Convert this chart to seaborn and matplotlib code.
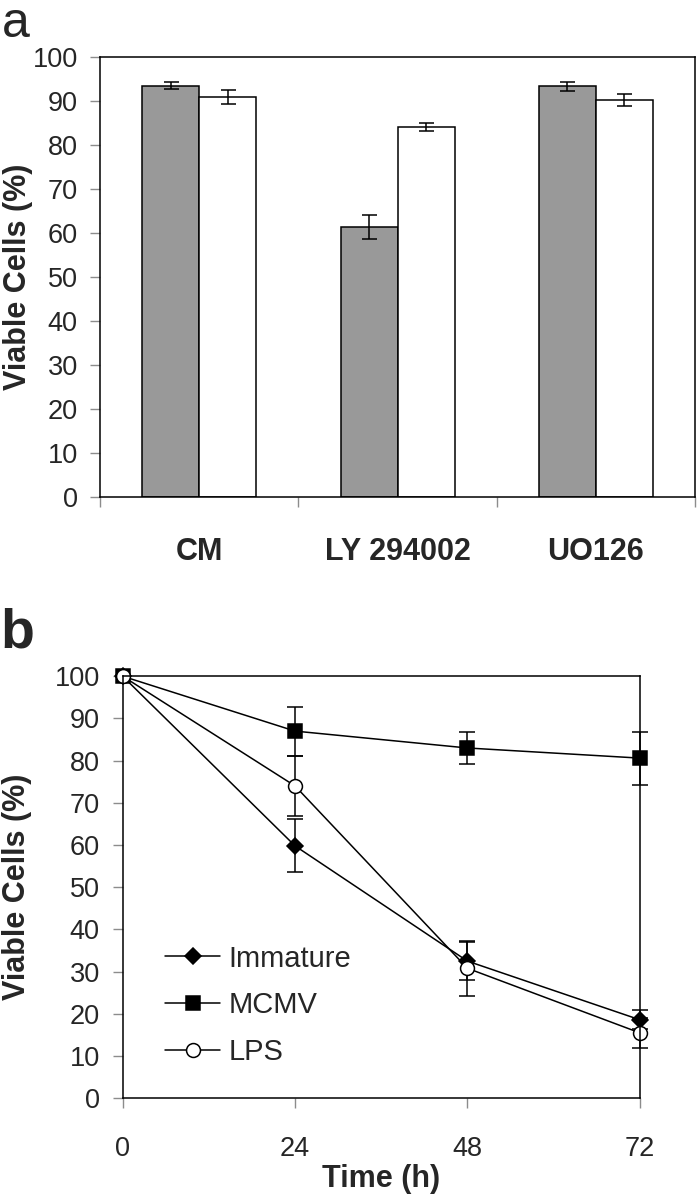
import numpy as np
import pandas as pd
import matplotlib
matplotlib.use("Agg")
import matplotlib.pyplot as plt
import seaborn as sns

# panel a: viability per inhibitor, two bar series (grey / white)
treatments = ["CM", "LY 294002", "UO126"]
grey_vals = [93.5, 61.3, 93.3]
grey_err = [0.8, 2.7, 1.1]
white_vals = [90.9, 84.0, 90.2]
white_err = [1.5, 0.9, 1.4]

# panel b: viability over time
hours = [0, 24, 48, 72]
immature = [100, 59.8, 32.5, 18.6]
immature_err = [0, 6.3, 4.5, 2.3]
mcmv = [100, 87.0, 83.0, 80.6]
mcmv_err = [0, 5.8, 3.9, 6.3]
lps = [100, 74.0, 30.8, 15.5]
lps_err = [0, 7.0, 6.5, 3.5]

sns.set_theme(style="white")
plt.rcParams["font.family"] = ["Liberation Sans", "DejaVu Sans"]

TICK_GREY = "#8c8c8c"
LW = 1.1
TICK_FS = 19.5
LABEL_FS = 22

fig = plt.figure(figsize=(6.97, 11.99), dpi=100)
ax_a = fig.add_axes([0.1435, 0.5855, 0.8537, 0.367])
ax_b = fig.add_axes([0.176, 0.084, 0.742, 0.352])

# ---------------- panel a ----------------
df_a = pd.DataFrame({
    "treatment": treatments * 2,
    "value": grey_vals + white_vals,
    "group": ["grey"] * 3 + ["white"] * 3,
})
sns.barplot(data=df_a, x="treatment", y="value", hue="group",
            palette={"grey": "#999999", "white": "white"},
            width=0.575, edgecolor="black", linewidth=LW,
            legend=False, errorbar=None, ax=ax_a)

errs = grey_err + white_err
for patch, err in zip(ax_a.patches, errs):
    cx = patch.get_x() + patch.get_width() / 2
    ax_a.errorbar(cx, patch.get_height(), yerr=err, fmt="none",
                  ecolor="black", elinewidth=LW, capsize=5.4, capthick=LW)

ax_a.set_ylim(0, 100)
ax_a.set_xlim(-0.5, 2.5)
ax_a.set_yticks(range(0, 101, 10))
ax_a.set_xticks([-0.5, 0.5, 1.5, 2.5])
ax_a.set_xticklabels([])
ax_a.set_xticks([0, 1, 2], minor=True)
ax_a.set_xticklabels(treatments, minor=True, fontsize=LABEL_FS, fontweight="bold")
ax_a.tick_params(axis="x", which="major", direction="out", length=7,
                 width=1, color=TICK_GREY, bottom=True)
ax_a.tick_params(axis="x", which="minor", length=0, pad=28.5, bottom=True)
ax_a.tick_params(axis="y", direction="out", length=7, width=1,
                 color=TICK_GREY, left=True, labelsize=TICK_FS, pad=9)
ax_a.set_xlabel("")
ax_a.set_ylabel("Viable Cells (%)", fontsize=LABEL_FS, fontweight="bold")
ax_a.yaxis.set_label_coords(-0.113, 0.5)

# ---------------- panel b ----------------
series = [
    ("Immature", immature, immature_err, "D", 8, "black"),
    ("MCMV", mcmv, mcmv_err, "s", 10.5, "black"),
    ("LPS", lps, lps_err, "o", 10, "white"),
]
for name, vals, err, mk, ms, face in series:
    ax_b.errorbar(hours, vals, yerr=err, fmt="none", ecolor="black",
                  elinewidth=LW, capsize=5.6, capthick=LW, clip_on=False)
for name, vals, err, mk, ms, face in series:
    sns.lineplot(x=hours, y=vals, marker=mk, markersize=ms,
                 markerfacecolor=face, markeredgecolor="black",
                 markeredgewidth=LW, color="black", linewidth=LW,
                 label=name, clip_on=False, ax=ax_b)

ax_b.set_xlim(0, 72)
ax_b.set_ylim(0, 100)
ax_b.set_xticks(hours)
ax_b.set_yticks(range(0, 101, 10))
ax_b.tick_params(axis="x", direction="out", length=7, width=1,
                 color=TICK_GREY, bottom=True, labelsize=TICK_FS, pad=20)
ax_b.tick_params(axis="y", direction="out", length=7, width=1,
                 color=TICK_GREY, left=True, labelsize=TICK_FS, pad=9.5)
ax_b.set_xlabel("Time (h)", fontsize=LABEL_FS, fontweight="bold")
ax_b.xaxis.set_label_coords(0.5, -0.155)
ax_b.set_ylabel("Viable Cells (%)", fontsize=LABEL_FS, fontweight="bold")
ax_b.yaxis.set_label_coords(-0.175, 0.5)

ax_b.legend(loc="upper left", bbox_to_anchor=(0.082, 0.364), frameon=False,
            fontsize=21, handlelength=1.9, handletextpad=0.28,
            labelspacing=0.64, borderpad=0, borderaxespad=0)

for ax in (ax_a, ax_b):
    for sp in ax.spines.values():
        sp.set_visible(True)
        sp.set_color("black")
        sp.set_linewidth(LW)
    ax.grid(False)

fig.text(0.002, 1 - 37 / 1199, "a", fontsize=36, va="baseline", ha="left")
fig.text(0.0, 1 - 647 / 1199, "b", fontsize=40, fontweight="bold",
         va="baseline", ha="left")

fig.savefig("out.png", dpi=100)
